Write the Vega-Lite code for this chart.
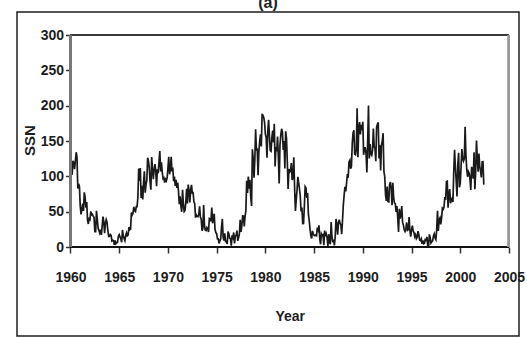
{
  "$schema": "https://vega.github.io/schema/vega-lite/v6.json",
  "autosize": {"type": "none"},
  "padding": {"left": 17, "top": 12, "right": 8, "bottom": 2},
  "width": 502,
  "height": 324,
  "background": "white",
  "title": {"text": "(a)", "anchor": "middle", "frame": "group", "offset": 1, "fontSize": 16, "font": "Liberation Sans", "fontWeight": "bold", "color": "#222"},
  "config": {
    "view": {"stroke": "#1e1e1e", "strokeWidth": 1.5},
    "axis": {
      "labelFont": "Liberation Sans",
      "labelFontSize": 14,
      "labelFontWeight": "bold",
      "labelColor": "#1e1e1e",
      "titleFont": "Liberation Sans",
      "titleFontWeight": "bold",
      "titleColor": "#1e1e1e",
      "tickColor": "#333",
      "tickWidth": 1.5,
      "grid": false,
      "domain": false,
      "labelOverlap": false,
      "labelFlush": false,
      "labelBound": false
    }
  },
  "data": {"values": [
{"t":1960,"ssn":146.3},{"t":1960.083,"ssn":106.0},{"t":1960.167,"ssn":102.2},{"t":1960.25,"ssn":122.0},{"t":1960.333,"ssn":119.6},{"t":1960.417,"ssn":110.2},{"t":1960.5,"ssn":121.7},{"t":1960.583,"ssn":134.1},{"t":1960.667,"ssn":127.2},{"t":1960.75,"ssn":82.8},{"t":1960.833,"ssn":89.6},{"t":1960.917,"ssn":85.6},
{"t":1961,"ssn":57.9},{"t":1961.083,"ssn":46.1},{"t":1961.167,"ssn":53.0},{"t":1961.25,"ssn":61.4},{"t":1961.333,"ssn":51.0},{"t":1961.417,"ssn":77.4},{"t":1961.5,"ssn":70.2},{"t":1961.583,"ssn":55.8},{"t":1961.667,"ssn":63.6},{"t":1961.75,"ssn":37.7},{"t":1961.833,"ssn":32.6},{"t":1961.917,"ssn":39.9},
{"t":1962,"ssn":38.7},{"t":1962.083,"ssn":50.3},{"t":1962.167,"ssn":45.6},{"t":1962.25,"ssn":46.4},{"t":1962.333,"ssn":43.7},{"t":1962.417,"ssn":42.0},{"t":1962.5,"ssn":21.8},{"t":1962.583,"ssn":21.8},{"t":1962.667,"ssn":51.3},{"t":1962.75,"ssn":39.5},{"t":1962.833,"ssn":26.9},{"t":1962.917,"ssn":23.2},
{"t":1963,"ssn":19.8},{"t":1963.083,"ssn":24.4},{"t":1963.167,"ssn":17.1},{"t":1963.25,"ssn":29.3},{"t":1963.333,"ssn":43.0},{"t":1963.417,"ssn":35.9},{"t":1963.5,"ssn":19.6},{"t":1963.583,"ssn":33.2},{"t":1963.667,"ssn":38.8},{"t":1963.75,"ssn":35.3},{"t":1963.833,"ssn":23.4},{"t":1963.917,"ssn":14.9},
{"t":1964,"ssn":15.3},{"t":1964.083,"ssn":17.7},{"t":1964.167,"ssn":16.5},{"t":1964.25,"ssn":8.6},{"t":1964.333,"ssn":9.5},{"t":1964.417,"ssn":9.1},{"t":1964.5,"ssn":3.1},{"t":1964.583,"ssn":9.3},{"t":1964.667,"ssn":4.7},{"t":1964.75,"ssn":6.1},{"t":1964.833,"ssn":7.4},{"t":1964.917,"ssn":15.1},
{"t":1965,"ssn":17.5},{"t":1965.083,"ssn":14.2},{"t":1965.167,"ssn":11.7},{"t":1965.25,"ssn":6.8},{"t":1965.333,"ssn":24.1},{"t":1965.417,"ssn":15.9},{"t":1965.5,"ssn":11.9},{"t":1965.583,"ssn":8.9},{"t":1965.667,"ssn":16.8},{"t":1965.75,"ssn":20.1},{"t":1965.833,"ssn":15.8},{"t":1965.917,"ssn":17.0},
{"t":1966,"ssn":28.2},{"t":1966.083,"ssn":24.4},{"t":1966.167,"ssn":25.3},{"t":1966.25,"ssn":48.7},{"t":1966.333,"ssn":45.3},{"t":1966.417,"ssn":47.7},{"t":1966.5,"ssn":56.7},{"t":1966.583,"ssn":51.2},{"t":1966.667,"ssn":50.2},{"t":1966.75,"ssn":57.2},{"t":1966.833,"ssn":57.2},{"t":1966.917,"ssn":70.4},
{"t":1967,"ssn":110.9},{"t":1967.083,"ssn":93.6},{"t":1967.167,"ssn":111.8},{"t":1967.25,"ssn":69.5},{"t":1967.333,"ssn":86.5},{"t":1967.417,"ssn":67.3},{"t":1967.5,"ssn":91.5},{"t":1967.583,"ssn":107.2},{"t":1967.667,"ssn":76.8},{"t":1967.75,"ssn":88.2},{"t":1967.833,"ssn":94.3},{"t":1967.917,"ssn":126.4},
{"t":1968,"ssn":121.8},{"t":1968.083,"ssn":111.9},{"t":1968.167,"ssn":92.2},{"t":1968.25,"ssn":81.2},{"t":1968.333,"ssn":127.2},{"t":1968.417,"ssn":110.3},{"t":1968.5,"ssn":96.1},{"t":1968.583,"ssn":109.3},{"t":1968.667,"ssn":117.2},{"t":1968.75,"ssn":107.7},{"t":1968.833,"ssn":86.0},{"t":1968.917,"ssn":109.8},
{"t":1969,"ssn":104.4},{"t":1969.083,"ssn":120.5},{"t":1969.167,"ssn":135.8},{"t":1969.25,"ssn":106.8},{"t":1969.333,"ssn":120.0},{"t":1969.417,"ssn":106.0},{"t":1969.5,"ssn":96.8},{"t":1969.583,"ssn":98.0},{"t":1969.667,"ssn":91.3},{"t":1969.75,"ssn":95.7},{"t":1969.833,"ssn":93.5},{"t":1969.917,"ssn":97.9},
{"t":1970,"ssn":111.5},{"t":1970.083,"ssn":127.8},{"t":1970.167,"ssn":102.9},{"t":1970.25,"ssn":109.5},{"t":1970.333,"ssn":127.5},{"t":1970.417,"ssn":106.8},{"t":1970.5,"ssn":112.5},{"t":1970.583,"ssn":93.0},{"t":1970.667,"ssn":99.5},{"t":1970.75,"ssn":86.6},{"t":1970.833,"ssn":95.2},{"t":1970.917,"ssn":83.5},
{"t":1971,"ssn":91.3},{"t":1971.083,"ssn":79.0},{"t":1971.167,"ssn":60.7},{"t":1971.25,"ssn":71.8},{"t":1971.333,"ssn":57.5},{"t":1971.417,"ssn":49.8},{"t":1971.5,"ssn":81.0},{"t":1971.583,"ssn":61.4},{"t":1971.667,"ssn":50.2},{"t":1971.75,"ssn":51.7},{"t":1971.833,"ssn":63.2},{"t":1971.917,"ssn":82.2},
{"t":1972,"ssn":61.5},{"t":1972.083,"ssn":88.4},{"t":1972.167,"ssn":80.1},{"t":1972.25,"ssn":63.2},{"t":1972.333,"ssn":80.5},{"t":1972.417,"ssn":88.0},{"t":1972.5,"ssn":76.5},{"t":1972.583,"ssn":76.8},{"t":1972.667,"ssn":64.0},{"t":1972.75,"ssn":61.3},{"t":1972.833,"ssn":41.6},{"t":1972.917,"ssn":45.3},
{"t":1973,"ssn":43.4},{"t":1973.083,"ssn":42.9},{"t":1973.167,"ssn":46.0},{"t":1973.25,"ssn":57.7},{"t":1973.333,"ssn":42.4},{"t":1973.417,"ssn":39.5},{"t":1973.5,"ssn":23.1},{"t":1973.583,"ssn":25.6},{"t":1973.667,"ssn":59.3},{"t":1973.75,"ssn":30.7},{"t":1973.833,"ssn":23.9},{"t":1973.917,"ssn":23.3},
{"t":1974,"ssn":27.6},{"t":1974.083,"ssn":26.0},{"t":1974.167,"ssn":21.3},{"t":1974.25,"ssn":40.3},{"t":1974.333,"ssn":39.5},{"t":1974.417,"ssn":36.6},{"t":1974.5,"ssn":55.8},{"t":1974.583,"ssn":33.6},{"t":1974.667,"ssn":40.2},{"t":1974.75,"ssn":47.1},{"t":1974.833,"ssn":25.0},{"t":1974.917,"ssn":20.5},
{"t":1975,"ssn":18.9},{"t":1975.083,"ssn":11.5},{"t":1975.167,"ssn":11.5},{"t":1975.25,"ssn":5.1},{"t":1975.333,"ssn":9.0},{"t":1975.417,"ssn":11.4},{"t":1975.5,"ssn":28.2},{"t":1975.583,"ssn":39.7},{"t":1975.667,"ssn":13.9},{"t":1975.75,"ssn":9.1},{"t":1975.833,"ssn":19.4},{"t":1975.917,"ssn":7.8},
{"t":1976,"ssn":8.1},{"t":1976.083,"ssn":4.3},{"t":1976.167,"ssn":21.9},{"t":1976.25,"ssn":18.8},{"t":1976.333,"ssn":12.4},{"t":1976.417,"ssn":12.2},{"t":1976.5,"ssn":1.9},{"t":1976.583,"ssn":16.4},{"t":1976.667,"ssn":13.5},{"t":1976.75,"ssn":20.6},{"t":1976.833,"ssn":5.2},{"t":1976.917,"ssn":15.3},
{"t":1977,"ssn":16.4},{"t":1977.083,"ssn":23.1},{"t":1977.167,"ssn":8.7},{"t":1977.25,"ssn":12.9},{"t":1977.333,"ssn":18.6},{"t":1977.417,"ssn":38.5},{"t":1977.5,"ssn":21.4},{"t":1977.583,"ssn":30.1},{"t":1977.667,"ssn":44.0},{"t":1977.75,"ssn":43.8},{"t":1977.833,"ssn":29.1},{"t":1977.917,"ssn":43.2},
{"t":1978,"ssn":51.9},{"t":1978.083,"ssn":93.6},{"t":1978.167,"ssn":76.5},{"t":1978.25,"ssn":99.7},{"t":1978.333,"ssn":82.7},{"t":1978.417,"ssn":95.1},{"t":1978.5,"ssn":70.4},{"t":1978.583,"ssn":58.1},{"t":1978.667,"ssn":138.2},{"t":1978.75,"ssn":125.1},{"t":1978.833,"ssn":97.9},{"t":1978.917,"ssn":122.7},
{"t":1979,"ssn":166.6},{"t":1979.083,"ssn":137.5},{"t":1979.167,"ssn":138.0},{"t":1979.25,"ssn":101.5},{"t":1979.333,"ssn":134.4},{"t":1979.417,"ssn":149.5},{"t":1979.5,"ssn":159.4},{"t":1979.583,"ssn":142.2},{"t":1979.667,"ssn":188.4},{"t":1979.75,"ssn":186.2},{"t":1979.833,"ssn":183.3},{"t":1979.917,"ssn":176.3},
{"t":1980,"ssn":159.6},{"t":1980.083,"ssn":155.0},{"t":1980.167,"ssn":126.2},{"t":1980.25,"ssn":164.1},{"t":1980.333,"ssn":179.9},{"t":1980.417,"ssn":157.3},{"t":1980.5,"ssn":136.3},{"t":1980.583,"ssn":135.4},{"t":1980.667,"ssn":155.0},{"t":1980.75,"ssn":164.7},{"t":1980.833,"ssn":147.9},{"t":1980.917,"ssn":174.4},
{"t":1981,"ssn":114.0},{"t":1981.083,"ssn":141.3},{"t":1981.167,"ssn":135.5},{"t":1981.25,"ssn":156.4},{"t":1981.333,"ssn":127.5},{"t":1981.417,"ssn":90.0},{"t":1981.5,"ssn":143.8},{"t":1981.583,"ssn":158.7},{"t":1981.667,"ssn":167.3},{"t":1981.75,"ssn":162.4},{"t":1981.833,"ssn":137.5},{"t":1981.917,"ssn":150.1},
{"t":1982,"ssn":111.2},{"t":1982.083,"ssn":163.6},{"t":1982.167,"ssn":153.8},{"t":1982.25,"ssn":122.0},{"t":1982.333,"ssn":82.2},{"t":1982.417,"ssn":110.4},{"t":1982.5,"ssn":106.1},{"t":1982.583,"ssn":107.6},{"t":1982.667,"ssn":118.8},{"t":1982.75,"ssn":94.7},{"t":1982.833,"ssn":98.1},{"t":1982.917,"ssn":127.0},
{"t":1983,"ssn":84.3},{"t":1983.083,"ssn":51.0},{"t":1983.167,"ssn":66.5},{"t":1983.25,"ssn":80.7},{"t":1983.333,"ssn":99.2},{"t":1983.417,"ssn":91.1},{"t":1983.5,"ssn":82.2},{"t":1983.583,"ssn":71.8},{"t":1983.667,"ssn":50.3},{"t":1983.75,"ssn":55.8},{"t":1983.833,"ssn":33.3},{"t":1983.917,"ssn":33.4},
{"t":1984,"ssn":57.0},{"t":1984.083,"ssn":85.4},{"t":1984.167,"ssn":83.5},{"t":1984.25,"ssn":69.7},{"t":1984.333,"ssn":76.4},{"t":1984.417,"ssn":46.1},{"t":1984.5,"ssn":37.4},{"t":1984.583,"ssn":25.5},{"t":1984.667,"ssn":15.7},{"t":1984.75,"ssn":12.0},{"t":1984.833,"ssn":22.8},{"t":1984.917,"ssn":18.7},
{"t":1985,"ssn":16.5},{"t":1985.083,"ssn":15.9},{"t":1985.167,"ssn":17.2},{"t":1985.25,"ssn":16.2},{"t":1985.333,"ssn":27.5},{"t":1985.417,"ssn":24.2},{"t":1985.5,"ssn":30.7},{"t":1985.583,"ssn":11.1},{"t":1985.667,"ssn":3.9},{"t":1985.75,"ssn":18.6},{"t":1985.833,"ssn":16.2},{"t":1985.917,"ssn":17.3},
{"t":1986,"ssn":2.5},{"t":1986.083,"ssn":23.2},{"t":1986.167,"ssn":15.1},{"t":1986.25,"ssn":18.5},{"t":1986.333,"ssn":13.7},{"t":1986.417,"ssn":1.1},{"t":1986.5,"ssn":18.1},{"t":1986.583,"ssn":7.4},{"t":1986.667,"ssn":3.8},{"t":1986.75,"ssn":35.4},{"t":1986.833,"ssn":15.2},{"t":1986.917,"ssn":6.8},
{"t":1987,"ssn":10.4},{"t":1987.083,"ssn":2.4},{"t":1987.167,"ssn":14.7},{"t":1987.25,"ssn":39.6},{"t":1987.333,"ssn":33.0},{"t":1987.417,"ssn":17.4},{"t":1987.5,"ssn":33.9},{"t":1987.583,"ssn":38.8},{"t":1987.667,"ssn":33.3},{"t":1987.75,"ssn":31.6},{"t":1987.833,"ssn":18.1},{"t":1987.917,"ssn":37.4},
{"t":1988,"ssn":59.6},{"t":1988.083,"ssn":73.4},{"t":1988.167,"ssn":85.2},{"t":1988.25,"ssn":78.6},{"t":1988.333,"ssn":90.5},{"t":1988.417,"ssn":103.2},{"t":1988.5,"ssn":98.2},{"t":1988.583,"ssn":120.3},{"t":1988.667,"ssn":122.6},{"t":1988.75,"ssn":110.8},{"t":1988.833,"ssn":113.7},{"t":1988.917,"ssn":146.2},
{"t":1989,"ssn":161.3},{"t":1989.083,"ssn":165.1},{"t":1989.167,"ssn":131.4},{"t":1989.25,"ssn":130.6},{"t":1989.333,"ssn":138.5},{"t":1989.417,"ssn":196.2},{"t":1989.5,"ssn":126.9},{"t":1989.583,"ssn":168.9},{"t":1989.667,"ssn":176.7},{"t":1989.75,"ssn":159.4},{"t":1989.833,"ssn":173.0},{"t":1989.917,"ssn":165.5},
{"t":1990,"ssn":177.3},{"t":1990.083,"ssn":130.5},{"t":1990.167,"ssn":140.3},{"t":1990.25,"ssn":140.3},{"t":1990.333,"ssn":132.2},{"t":1990.417,"ssn":105.4},{"t":1990.5,"ssn":149.4},{"t":1990.583,"ssn":200.3},{"t":1990.667,"ssn":125.2},{"t":1990.75,"ssn":145.5},{"t":1990.833,"ssn":131.4},{"t":1990.917,"ssn":129.7},
{"t":1991,"ssn":136.9},{"t":1991.083,"ssn":167.5},{"t":1991.167,"ssn":141.9},{"t":1991.25,"ssn":140.0},{"t":1991.333,"ssn":121.3},{"t":1991.417,"ssn":169.7},{"t":1991.5,"ssn":173.7},{"t":1991.583,"ssn":176.3},{"t":1991.667,"ssn":125.3},{"t":1991.75,"ssn":144.1},{"t":1991.833,"ssn":108.2},{"t":1991.917,"ssn":144.4},
{"t":1992,"ssn":150.0},{"t":1992.083,"ssn":161.1},{"t":1992.167,"ssn":106.7},{"t":1992.25,"ssn":99.8},{"t":1992.333,"ssn":73.8},{"t":1992.417,"ssn":65.2},{"t":1992.5,"ssn":85.7},{"t":1992.583,"ssn":64.5},{"t":1992.667,"ssn":63.9},{"t":1992.75,"ssn":88.7},{"t":1992.833,"ssn":91.8},{"t":1992.917,"ssn":82.6},
{"t":1993,"ssn":59.3},{"t":1993.083,"ssn":91.0},{"t":1993.167,"ssn":69.8},{"t":1993.25,"ssn":62.2},{"t":1993.333,"ssn":61.3},{"t":1993.417,"ssn":49.8},{"t":1993.5,"ssn":57.9},{"t":1993.583,"ssn":42.3},{"t":1993.667,"ssn":21.4},{"t":1993.75,"ssn":54.1},{"t":1993.833,"ssn":40.1},{"t":1993.917,"ssn":45.3},
{"t":1994,"ssn":58.0},{"t":1994.083,"ssn":34.4},{"t":1994.167,"ssn":31.1},{"t":1994.25,"ssn":24.4},{"t":1994.333,"ssn":22.0},{"t":1994.417,"ssn":25.6},{"t":1994.5,"ssn":34.7},{"t":1994.583,"ssn":23.5},{"t":1994.667,"ssn":24.5},{"t":1994.75,"ssn":42.4},{"t":1994.833,"ssn":23.4},{"t":1994.917,"ssn":14.7},
{"t":1995,"ssn":24.0},{"t":1995.083,"ssn":30.1},{"t":1995.167,"ssn":23.0},{"t":1995.25,"ssn":20.4},{"t":1995.333,"ssn":14.6},{"t":1995.417,"ssn":17.3},{"t":1995.5,"ssn":11.8},{"t":1995.583,"ssn":13.7},{"t":1995.667,"ssn":22.4},{"t":1995.75,"ssn":17.6},{"t":1995.833,"ssn":10.0},{"t":1995.917,"ssn":9.1},
{"t":1996,"ssn":11.5},{"t":1996.083,"ssn":4.4},{"t":1996.167,"ssn":9.2},{"t":1996.25,"ssn":4.8},{"t":1996.333,"ssn":5.5},{"t":1996.417,"ssn":11.8},{"t":1996.5,"ssn":8.2},{"t":1996.583,"ssn":14.4},{"t":1996.667,"ssn":1.6},{"t":1996.75,"ssn":0.9},{"t":1996.833,"ssn":17.9},{"t":1996.917,"ssn":13.3},
{"t":1997,"ssn":5.7},{"t":1997.083,"ssn":7.6},{"t":1997.167,"ssn":8.7},{"t":1997.25,"ssn":15.5},{"t":1997.333,"ssn":18.5},{"t":1997.417,"ssn":12.7},{"t":1997.5,"ssn":10.4},{"t":1997.583,"ssn":24.4},{"t":1997.667,"ssn":51.3},{"t":1997.75,"ssn":22.8},{"t":1997.833,"ssn":39.0},{"t":1997.917,"ssn":41.2},
{"t":1998,"ssn":31.9},{"t":1998.083,"ssn":40.3},{"t":1998.167,"ssn":54.8},{"t":1998.25,"ssn":53.4},{"t":1998.333,"ssn":56.3},{"t":1998.417,"ssn":70.7},{"t":1998.5,"ssn":66.6},{"t":1998.583,"ssn":92.2},{"t":1998.667,"ssn":92.9},{"t":1998.75,"ssn":55.5},{"t":1998.833,"ssn":74.0},{"t":1998.917,"ssn":81.9},
{"t":1999,"ssn":62.0},{"t":1999.083,"ssn":66.3},{"t":1999.167,"ssn":68.8},{"t":1999.25,"ssn":63.7},{"t":1999.333,"ssn":106.4},{"t":1999.417,"ssn":137.7},{"t":1999.5,"ssn":113.5},{"t":1999.583,"ssn":93.7},{"t":1999.667,"ssn":71.5},{"t":1999.75,"ssn":116.7},{"t":1999.833,"ssn":133.2},{"t":1999.917,"ssn":84.6},
{"t":2000,"ssn":90.1},{"t":2000.083,"ssn":112.9},{"t":2000.167,"ssn":138.5},{"t":2000.25,"ssn":125.5},{"t":2000.333,"ssn":121.6},{"t":2000.417,"ssn":124.9},{"t":2000.5,"ssn":170.1},{"t":2000.583,"ssn":130.5},{"t":2000.667,"ssn":109.7},{"t":2000.75,"ssn":99.4},{"t":2000.833,"ssn":106.8},{"t":2000.917,"ssn":104.4},
{"t":2001,"ssn":95.6},{"t":2001.083,"ssn":80.6},{"t":2001.167,"ssn":113.5},{"t":2001.25,"ssn":107.7},{"t":2001.333,"ssn":96.6},{"t":2001.417,"ssn":134.0},{"t":2001.5,"ssn":81.8},{"t":2001.583,"ssn":106.4},{"t":2001.667,"ssn":150.7},{"t":2001.75,"ssn":125.5},{"t":2001.833,"ssn":106.5},{"t":2001.917,"ssn":132.2},
{"t":2002,"ssn":114.1},{"t":2002.083,"ssn":107.4},{"t":2002.167,"ssn":98.4},{"t":2002.25,"ssn":120.7},{"t":2002.333,"ssn":120.8},{"t":2002.417,"ssn":88.3}
  ]},
  "layer": [
    {
      "mark": {"type": "line", "color": "#1a1a1a", "strokeWidth": 1.7},
      "encoding": {
        "x": {
          "field": "t", "type": "quantitative",
          "scale": {"domain": [1954.51, 2006.03], "nice": false, "zero": false},
          "axis": {
            "values": [1960, 1965, 1970, 1975, 1980, 1985, 1990, 1995, 2000, 2005],
            "format": "d", "offset": -89, "tickSize": 6, "labelPadding": 17,
            "title": "Year", "titleFontSize": 14,
            "titleX": 272.75, "titleY": 69, "titleAlign": "center", "titleBaseline": "middle"
          }
        },
        "y": {
          "field": "ssn", "type": "quantitative",
          "scale": {"domain": [-125.94, 332.55], "nice": false, "zero": false},
          "axis": {
            "values": [0, 50, 100, 150, 200, 250, 300],
            "offset": -53.5, "tickSize": 5, "labelPadding": 2,
            "title": "SSN", "titleFontSize": 15, "titleAngle": -90,
            "titleX": -41, "titleY": 128, "titleAlign": "center", "titleBaseline": "middle"
          }
        }
      }
    },
    {
      "mark": {"type": "rule", "color": "#111", "strokeWidth": 2},
      "encoding": {
        "x": {"datum": 1960},
        "x2": {"datum": 2005},
        "y": {"datum": 0}
      }
    },
    {
      "mark": {"type": "rule", "color": "#3a3a3a", "strokeWidth": 1.5},
      "encoding": {
        "x": {"datum": 1960},
        "x2": {"datum": 2005},
        "y": {"datum": 300}
      }
    },
    {
      "mark": {"type": "rule", "color": "#777", "strokeWidth": 1.5},
      "encoding": {
        "x": {"datum": 1960},
        "y": {"datum": 0},
        "y2": {"datum": 300}
      }
    },
    {
      "mark": {"type": "rule", "color": "#9a9a9a", "strokeWidth": 2},
      "encoding": {
        "x": {"datum": 2005},
        "y": {"datum": 0},
        "y2": {"datum": 300}
      }
    }
  ]
}
